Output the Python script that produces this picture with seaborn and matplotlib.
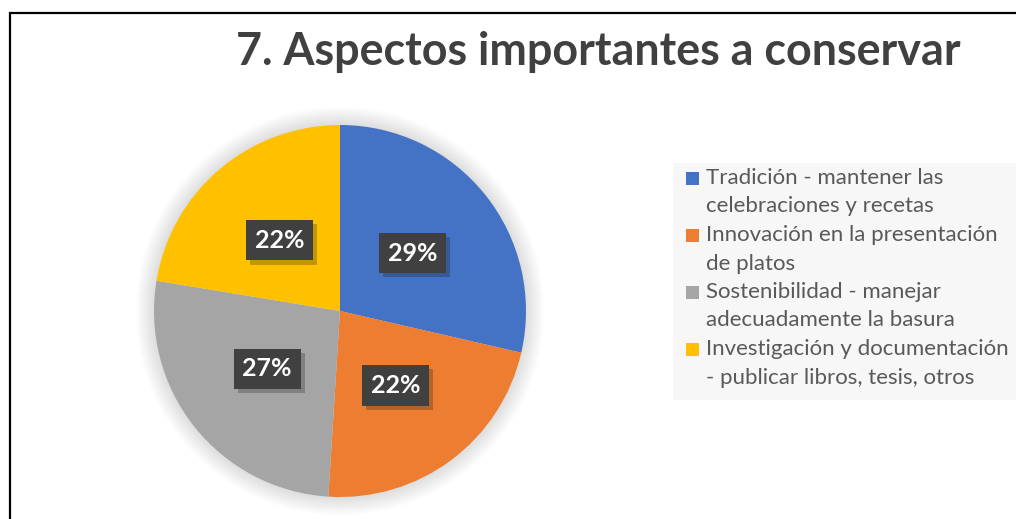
import numpy as np
import matplotlib
matplotlib.use("Agg")
import matplotlib.pyplot as plt
import matplotlib.patches as mpatches
import matplotlib.patheffects as pe
import seaborn as sns

sns.set_style("white")
plt.rcParams["font.family"] = ["Lato", "DejaVu Sans"]

# datos (porcentajes estimados del gráfico)
title = "7. Aspectos importantes a conservar"
categories = [
    "Tradición - mantener las\ncelebraciones y recetas",
    "Innovación en la presentación\nde platos",
    "Sostenibilidad - manejar\nadecuadamente la basura",
    "Investigación y documentación\n- publicar libros, tesis, otros",
]
values = [28.6, 22.4, 26.6, 22.4]
colors = ["#4472C4", "#ED7D31", "#A5A5A5", "#FFC000"]

W, H = 1016, 519
fig = plt.figure(figsize=(W / 100, H / 100), dpi=100)

# marco
fig.add_artist(mpatches.Rectangle((10 / W, -0.2), 1.2, 1.2 - 13 / H, fill=False,
                                  edgecolor="black", linewidth=1.6,
                                  transform=fig.transFigure))

cx, cy, r = 340, 311, 186
ax = fig.add_axes([(cx - r) / W, (H - cy - r) / H, 2 * r / W, 2 * r / H])

# sombra suave
for k in range(8):
    ax.add_patch(mpatches.Circle((0.0, 0.0), 1.0 + 0.012 * (k + 1), color="black",
                                 alpha=0.015, linewidth=0, zorder=0, clip_on=False))

wedges, texts, autotexts = ax.pie(
    values, colors=colors, startangle=90, counterclock=False,
    autopct="%.0f%%", pctdistance=0.5, radius=1.0,
    wedgeprops={"linewidth": 0},
    textprops={"color": "white", "fontsize": 18, "fontweight": "bold"},
)
for t in autotexts:
    t.set_bbox(dict(boxstyle="square,pad=0.35", facecolor="#404040",
                    edgecolor="none", linewidth=0))
    t.get_bbox_patch().set_path_effects(
        [pe.SimplePatchShadow(offset=(3, -3), alpha=0.25), pe.Normal()])
ax.set_xlim(-1, 1)
ax.set_ylim(-1, 1)
ax.set_aspect("equal")
ax.axis("off")

fig.text(598 / W, 1 - 52 / H, title, ha="center", va="center",
         fontsize=32.3, fontweight="bold", color="#404040")

# leyenda
fig.add_artist(mpatches.Rectangle((673 / W, 1 - 400 / H), 343 / W, 237 / H,
                                  facecolor="#F7F7F7", edgecolor="none",
                                  transform=fig.transFigure))
for i, (lab, col) in enumerate(zip(categories, colors)):
    y0 = 178 + i * 57
    fig.add_artist(mpatches.Rectangle((686 / W, 1 - (y0 + 7) / H), 13 / W, 13 / H,
                                      facecolor=col, edgecolor="none",
                                      transform=fig.transFigure))
    for j, line in enumerate(lab.split("\n")):
        fig.text(706 / W, 1 - (y0 + j * 28.5) / H, line, ha="left", va="center",
                 fontsize=16, color="#595959")

fig.savefig("out.png", dpi=100)
